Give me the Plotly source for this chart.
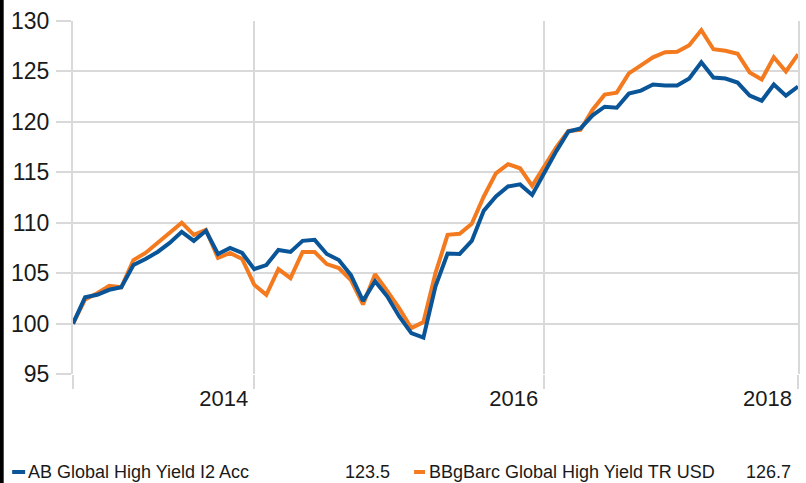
import plotly.graph_objects as go

# ---- data ----
months = list(range(61))  # monthly observations (index positions)
ab_fund = [100.0, 102.6, 102.85, 103.35, 103.6, 105.8, 106.4, 107.1, 108.0, 109.1,
           108.2, 109.2, 106.9, 107.5, 107.0, 105.4, 105.8, 107.3, 107.1, 108.2,
           108.3, 106.9, 106.3, 104.8, 102.25, 104.2, 102.7, 100.7, 99.05, 98.6,
           103.7, 106.95, 106.9, 108.2, 111.2, 112.6, 113.6, 113.8, 112.75, 115.0,
           117.1, 119.05, 119.35, 120.65, 121.5, 121.4, 122.8, 123.1, 123.7, 123.6,
           123.6, 124.3, 125.9, 124.4, 124.3, 123.9, 122.6, 122.1, 123.7, 122.6,
           123.5]
bbg_index = [100.0, 102.4, 103.0, 103.75, 103.6, 106.3, 107.0, 108.0, 108.9, 110.0,
             108.8, 109.3, 106.5, 107.0, 106.4, 103.85, 102.85, 105.4, 104.5, 107.1,
             107.1, 105.9, 105.5, 104.3, 101.9, 104.9, 103.25, 101.5, 99.55, 100.15,
             105.0, 108.8, 108.9, 109.9, 112.6, 114.9, 115.8, 115.4, 113.65, 115.5,
             117.5, 119.1, 119.2, 121.2, 122.7, 122.9, 124.8, 125.6, 126.4, 126.9,
             126.95, 127.6, 129.1, 127.2, 127.05, 126.75, 124.9, 124.2, 126.4, 125.0,
             126.7]
series_names = ["AB Global High Yield I2 Acc", "BBgBarc Global High Yield TR USD"]
x_tick_positions = [0, 15, 39, 60]
x_tick_labels = ["", "2014", "2016", "2018"]
y_tick_values = [95, 100, 105, 110, 115, 120, 125, 130]

BLUE = "#0a5597"
ORANGE = "#f47a20"
GRID = "#d9d9d9"
FONT = "Liberation Sans, Arial, sans-serif"
TXT = "#1a1a1a"

W, H = 806, 483
ML, MR, MT, MB = 73, 6, 21, 109
PW, PH = W - ML - MR, H - MT - MB


def px(xp):
    return (xp - ML) / PW


def py(yp):
    return (H - MB - yp) / PH


fig = go.Figure()
fig.add_trace(go.Scatter(x=months, y=bbg_index, mode="lines", name=series_names[1],
                         line=dict(color=ORANGE, width=4)))
fig.add_trace(go.Scatter(x=months, y=ab_fund, mode="lines", name=series_names[0],
                         line=dict(color=BLUE, width=4)))

fig.update_layout(
    width=W, height=H,
    margin=dict(l=ML, r=MR, t=MT, b=MB),
    paper_bgcolor="white", plot_bgcolor="white",
    showlegend=False,
    font=dict(family=FONT, color=TXT),
)
fig.update_xaxes(
    range=[months[0], months[-1]],
    tickmode="array", tickvals=x_tick_positions, ticktext=x_tick_labels,
    showgrid=True, gridcolor=GRID, gridwidth=2,
    ticks="outside", ticklen=14, tickwidth=2, tickcolor=GRID,
    ticklabelposition="outside left",
    ticklabelshift=-5, ticklabelstandoff=5,
    tickfont=dict(size=22, family=FONT, color=TXT),
    showline=False, zeroline=False,
)
fig.update_yaxes(
    range=[95, 130],
    tickmode="array", tickvals=y_tick_values,
    showgrid=True, gridcolor=GRID, gridwidth=2,
    ticks="outside", ticklen=15, tickwidth=2, tickcolor=GRID,
    ticklabelstandoff=2,
    tickfont=dict(size=23, family=FONT, color=TXT),
    showline=True, mirror=True, linecolor=GRID, linewidth=2,
    zeroline=False,
)

# black strip at the left edge
fig.add_shape(type="rect", xref="paper", yref="paper",
              x0=px(-2), x1=px(3.5), y0=py(H + 2), y1=py(-2),
              fillcolor="black", line=dict(width=0), layer="above")

# custom legend row with last values
legend_y = py(472)
items = [
    (series_names[0], ab_fund, BLUE, 12, 25, 26, 393),
    (series_names[1], bbg_index, ORANGE, 415, 426, 428, 795),
]
for name, vals, col, d0, d1, tx, vx in items:
    fig.add_shape(type="line", xref="paper", yref="paper",
                  x0=px(d0), x1=px(d1), y0=legend_y, y1=legend_y,
                  line=dict(color=col, width=4))
    fig.add_annotation(xref="paper", yref="paper", x=px(tx), y=legend_y,
                       text=name, showarrow=False, xanchor="left", yanchor="middle",
                       font=dict(size=18, family=FONT, color=TXT))
    fig.add_annotation(xref="paper", yref="paper", x=px(vx), y=legend_y,
                       text=f"{vals[-1]:.1f}", showarrow=False, xanchor="right",
                       yanchor="middle",
                       font=dict(size=18, family=FONT, color=TXT))

fig.write_html("out.html", config={"displayModeBar": False})

# remove the default page margin so the figure fills the window exactly
with open("out.html", "r", encoding="utf-8") as f:
    html = f.read()
html = html.replace("<head>", "<head><style>html,body{margin:0;padding:0;overflow:hidden;}</style>", 1)
with open("out.html", "w", encoding="utf-8") as f:
    f.write(html)
